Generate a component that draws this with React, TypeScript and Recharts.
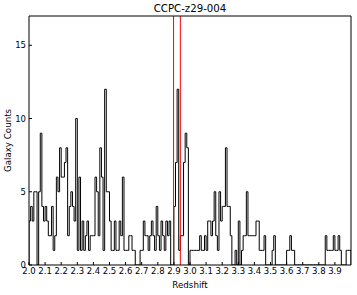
import React from 'react';
import { LineChart, Line, XAxis, YAxis, ReferenceLine } from 'recharts';

const title = 'CCPC-z29-004';
const xLabel = 'Redshift';
const yLabel = 'Galaxy Counts';

const binStart = 2.0;
const binWidth = 0.01;

// Galaxy counts per 0.01 redshift bin, 2.00 .. 3.99
const counts = [
  3, 4, 3, 5, 5, 0, 5, 9, 4, 3, 4, 3, 2, 2, 4, 1, 2, 6, 5, 8,
  6, 6, 7, 8, 2, 4, 5, 4, 3, 10, 1, 6, 1, 3, 1, 2, 3, 1, 2, 2,
  2, 6, 5, 2, 8, 6, 1, 12, 5, 5, 3, 1, 1, 3, 1, 1, 3, 2, 6, 1,
  1, 1, 2, 2, 1, 1, 0, 0, 0, 1, 1, 3, 2, 2, 1, 2, 3, 2, 1, 4,
  2, 1, 3, 2, 1, 3, 2, 3, 0, 0, 4, 7, 12, 1, 2, 2, 7, 9, 8, 0,
  1, 1, 1, 1, 1, 1, 2, 1, 1, 2, 1, 3, 3, 2, 3, 5, 2, 1, 5, 3,
  4, 4, 8, 4, 4, 2, 0, 0, 1, 0, 3, 0, 1, 2, 2, 5, 2, 2, 2, 2,
  2, 3, 3, 1, 1, 1, 2, 0, 0, 0, 0, 1, 2, 0, 0, 0, 0, 0, 0, 0,
  1, 1, 2, 1, 1, 0, 0, 0, 0, 0, 0, 0, 0, 0, 0, 0, 0, 0, 0, 0,
  0, 0, 0, 0, 2, 1, 1, 1, 1, 2, 1, 1, 2, 1, 0, 0, 0, 1, 1, 1,
];

const xTicks = [2.0, 2.1, 2.2, 2.3, 2.4, 2.5, 2.6, 2.7, 2.8, 2.9, 3.0, 3.1, 3.2, 3.3, 3.4, 3.5, 3.6, 3.7, 3.8, 3.9];
const yTicks = [0, 5, 10, 15];
const xDomain = [2.0, 4.0];
const yDomain = [0, 17];
const markerLines = [2.898, 2.94];

const data = [
  { z: binStart, n: 0 },
  ...counts.map((n, i) => ({ z: +(binStart + i * binWidth).toFixed(2), n })),
  { z: +(binStart + counts.length * binWidth).toFixed(2), n: counts[counts.length - 1] },
  { z: +(binStart + counts.length * binWidth).toFixed(2), n: 0 },
];

const FONT = 'DejaVu Sans';
const tickStyle = { fontFamily: FONT, fontSize: 8.5, fill: '#000' };

export default function App() {
  return (
    <div style={{ position: 'absolute', left: 0, top: 0, width: 357, height: 295, background: '#fff' }}>
      <LineChart width={357} height={295} data={data} margin={{ top: 0, right: 0, bottom: 0, left: 0 }}>
        <XAxis
          xAxisId="b"
          dataKey="z"
          type="number"
          domain={xDomain}
          allowDataOverflow
          ticks={xTicks}
          interval={0}
          tickFormatter={(v: number) => v.toFixed(1)}
          orientation="bottom"
          height={30}
          tickSize={-3}
          tickMargin={6}
          axisLine={{ stroke: '#000' }}
          tickLine={{ stroke: '#000' }}
          tick={tickStyle}
          label={{ value: xLabel, position: 'insideBottom', offset: 7, fill: '#000', fontSize: 8.7, fontFamily: FONT }}
        />
        <XAxis
          xAxisId="t"
          type="number"
          domain={xDomain}
          allowDataOverflow
          ticks={xTicks}
          interval={0}
          orientation="top"
          height={16}
          tickSize={-3}
          axisLine={{ stroke: '#000' }}
          tickLine={{ stroke: '#000' }}
          tick={false}
          label={{ value: title, position: 'insideTop', offset: 5, fill: '#000', fontSize: 10.2, fontFamily: FONT }}
        />
        <YAxis
          yAxisId="l"
          type="number"
          domain={yDomain}
          allowDataOverflow
          ticks={yTicks}
          interval={0}
          orientation="left"
          width={29}
          tickSize={-3}
          tickMargin={6}
          axisLine={{ stroke: '#000' }}
          tickLine={{ stroke: '#000' }}
          tick={tickStyle}
          label={{ value: yLabel, angle: -90, position: 'insideLeft', offset: 8, textAnchor: 'middle', fill: '#000', fontSize: 8.7, fontFamily: FONT }}
        />
        <YAxis
          yAxisId="r"
          type="number"
          domain={yDomain}
          allowDataOverflow
          ticks={yTicks}
          interval={0}
          orientation="right"
          width={6}
          tickSize={-3}
          axisLine={{ stroke: '#000' }}
          tickLine={{ stroke: '#000' }}
          tick={false}
        />
        <Line
          xAxisId="b"
          yAxisId="l"
          dataKey="n"
          type="stepAfter"
          stroke="#000"
          strokeWidth={1}
          dot={false}
          activeDot={false}
          isAnimationActive={false}
        />
        {markerLines.map((z) => (
          <ReferenceLine key={z} xAxisId="b" yAxisId="l" x={z} stroke="#ff0000" strokeWidth={1} ifOverflow="visible" />
        ))}
      </LineChart>
    </div>
  );
}
